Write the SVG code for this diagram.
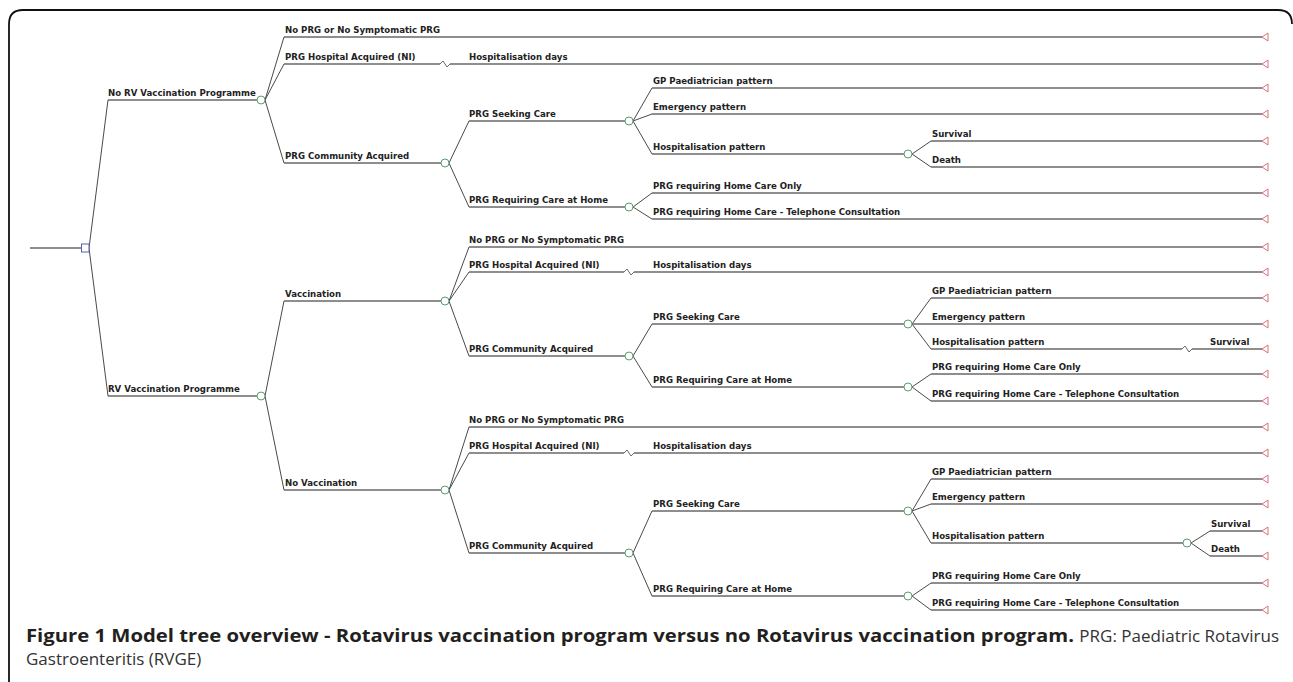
<svg xmlns="http://www.w3.org/2000/svg" width="1293" height="682" viewBox="0 0 1293 682">
<defs>
<style>
.ln{stroke:#6a6a6a;stroke-width:1.3;fill:none}
.dg{stroke:#4a4a4a;stroke-width:1;fill:none}
.ch{fill:#fff;stroke:#5a9e6f;stroke-width:1}
.dc{fill:#fff;stroke:#5561b0;stroke-width:1}
.tm{fill:none;stroke:#d9707a;stroke-width:1}
.nt{fill:none;stroke:#6a6a6a;stroke-width:1}
.lb{font-family:"DejaVu Sans",sans-serif;font-weight:bold;font-size:8.6px;fill:#222}
.cb{font-family:"Open Sans",sans-serif;font-weight:bold;font-size:17px;fill:#231f20}
.cr{font-family:"Open Sans",sans-serif;font-size:17px;fill:#333}
</style>
<path id="tri" d="M0 0 L6 -4 L6 4 Z" class="tm"/>
</defs>
<rect width="1293" height="682" fill="#fff"/>
<path d="M9 682 V24 Q9 10 23 10 H1278 Q1292 10 1292 24" fill="none" stroke="#111" stroke-width="1.8"/>
<g id="connectors">
<path class="ln" d="M30 248H81M108 100H257M108 396H257"/>
<path class="dg" d="M89 248L108 100M89 248L108 396"/>
<path class="dg" d="M265 100L284 37M265 100L284 64M265 100L284 163"/>
<path class="ln" d="M284 37H1262M284 64H440M450 64H1262M284 163H441"/>
<path class="dg" d="M449 163L469 121M449 163L469 207"/>
<path class="ln" d="M469 121H625M469 207H625"/>
<path class="dg" d="M633 121L652 88M633 121L652 114M633 121L652 154"/>
<path class="ln" d="M652 88H1262M652 114H1262M652 154H904"/>
<path class="dg" d="M912 154L931 141M912 154L931 167"/>
<path class="ln" d="M931 141H1262M931 167H1262"/>
<path class="dg" d="M633 207L652 193M633 207L652 219"/>
<path class="ln" d="M652 193H1262M652 219H1262"/>
<path class="dg" d="M265 396L284 301M265 396L284 490"/>
<path class="ln" d="M284 301H441M284 490H441"/>
<path class="dg" d="M449 301L469 247M449 301L469 272M449 301L469 356"/>
<path class="ln" d="M469 247H1262M469 272H624M634 272H1262M469 356H625"/>
<path class="dg" d="M633 356L652 324M633 356L652 387"/>
<path class="ln" d="M652 324H904M652 387H904"/>
<path class="dg" d="M912 324L931 298M912 324L931 349"/>
<path class="ln" d="M912 324H1262M931 298H1262M931 349H1182M1192 349H1262"/>
<path class="dg" d="M912 387L931 374M912 387L931 401"/>
<path class="ln" d="M931 374H1262M931 401H1262"/>
<path class="dg" d="M449 490L469 427M449 490L469 453M449 490L469 553"/>
<path class="ln" d="M469 427H1262M469 453H624M634 453H1262M469 553H625"/>
<path class="dg" d="M633 553L652 511M633 553L652 596"/>
<path class="ln" d="M652 511H904M652 596H904"/>
<path class="dg" d="M912 511L931 479M912 511L931 504M912 511L931 543"/>
<path class="ln" d="M931 479H1262M931 504H1262M931 543H1183"/>
<path class="dg" d="M1191 543L1210 531M1191 543L1210 556"/>
<path class="ln" d="M1210 531H1262M1210 556H1262"/>
<path class="dg" d="M912 596L931 583M912 596L931 610"/>
<path class="ln" d="M931 583H1262M931 610H1262"/>
</g>
<g id="root"><rect class="dc" x="81.5" y="244" width="7.5" height="8"/></g>
<g id="n-norv"><circle class="ch" cx="261" cy="100" r="4"/><text class="lb" x="108" y="96">No RV Vaccination Programme</text></g>
<g id="n-rv"><circle class="ch" cx="261" cy="396" r="4"/><text class="lb" x="108" y="392">RV Vaccination Programme</text></g>
<g id="a1"><use href="#tri" x="1262" y="37"/><text class="lb" x="285" y="33">No PRG or No Symptomatic PRG</text></g>
<g id="a2"><path class="nt" d="M440 64L443 61L447 67L450 64"/><text class="lb" x="285" y="60">PRG Hospital Acquired (NI)</text></g>
<g id="a2t"><use href="#tri" x="1262" y="64"/><text class="lb" x="469" y="60">Hospitalisation days</text></g>
<g id="a3"><circle class="ch" cx="445" cy="163" r="4"/><text class="lb" x="285" y="159">PRG Community Acquired</text></g>
<g id="a31"><circle class="ch" cx="629" cy="121" r="4"/><text class="lb" x="469" y="117">PRG Seeking Care</text></g>
<g id="a311"><use href="#tri" x="1262" y="88"/><text class="lb" x="653" y="84">GP Paediatrician pattern</text></g>
<g id="a312"><use href="#tri" x="1262" y="114"/><text class="lb" x="653" y="110">Emergency pattern</text></g>
<g id="a313"><circle class="ch" cx="908" cy="154" r="4"/><text class="lb" x="653" y="150">Hospitalisation pattern</text></g>
<g id="a3131"><use href="#tri" x="1262" y="141"/><text class="lb" x="932" y="137">Survival</text></g>
<g id="a3132"><use href="#tri" x="1262" y="167"/><text class="lb" x="932" y="163">Death</text></g>
<g id="a32"><circle class="ch" cx="629" cy="207" r="4"/><text class="lb" x="469" y="203">PRG Requiring Care at Home</text></g>
<g id="a321"><use href="#tri" x="1262" y="193"/><text class="lb" x="653" y="189">PRG requiring Home Care Only</text></g>
<g id="a322"><use href="#tri" x="1262" y="219"/><text class="lb" x="653" y="215">PRG requiring Home Care - Telephone Consultation</text></g>
<g id="b1"><circle class="ch" cx="445" cy="301" r="4"/><text class="lb" x="285" y="297">Vaccination</text></g>
<g id="b11"><use href="#tri" x="1262" y="247"/><text class="lb" x="469" y="243">No PRG or No Symptomatic PRG</text></g>
<g id="b12"><path class="nt" d="M624 272L627 269L631 275L634 272"/><text class="lb" x="469" y="268">PRG Hospital Acquired (NI)</text></g>
<g id="b12t"><use href="#tri" x="1262" y="272"/><text class="lb" x="653" y="268">Hospitalisation days</text></g>
<g id="b13"><circle class="ch" cx="629" cy="356" r="4"/><text class="lb" x="469" y="352">PRG Community Acquired</text></g>
<g id="b131"><circle class="ch" cx="908" cy="324" r="4"/><text class="lb" x="653" y="320">PRG Seeking Care</text></g>
<g id="b1311"><use href="#tri" x="1262" y="298"/><text class="lb" x="932" y="294">GP Paediatrician pattern</text></g>
<g id="b1312"><use href="#tri" x="1262" y="324"/><text class="lb" x="932" y="320">Emergency pattern</text></g>
<g id="b1313"><path class="nt" d="M1182 349L1185 346L1189 352L1192 349"/><text class="lb" x="932" y="345">Hospitalisation pattern</text></g>
<g id="b1313t"><use href="#tri" x="1262" y="349"/><text class="lb" x="1210" y="345">Survival</text></g>
<g id="b132"><circle class="ch" cx="908" cy="387" r="4"/><text class="lb" x="653" y="383">PRG Requiring Care at Home</text></g>
<g id="b1321"><use href="#tri" x="1262" y="374"/><text class="lb" x="932" y="370">PRG requiring Home Care Only</text></g>
<g id="b1322"><use href="#tri" x="1262" y="401"/><text class="lb" x="932" y="397">PRG requiring Home Care - Telephone Consultation</text></g>
<g id="b2"><circle class="ch" cx="445" cy="490" r="4"/><text class="lb" x="285" y="486">No Vaccination</text></g>
<g id="b21"><use href="#tri" x="1262" y="427"/><text class="lb" x="469" y="423">No PRG or No Symptomatic PRG</text></g>
<g id="b22"><path class="nt" d="M624 453L627 450L631 456L634 453"/><text class="lb" x="469" y="449">PRG Hospital Acquired (NI)</text></g>
<g id="b22t"><use href="#tri" x="1262" y="453"/><text class="lb" x="653" y="449">Hospitalisation days</text></g>
<g id="b23"><circle class="ch" cx="629" cy="553" r="4"/><text class="lb" x="469" y="549">PRG Community Acquired</text></g>
<g id="b231"><circle class="ch" cx="908" cy="511" r="4"/><text class="lb" x="653" y="507">PRG Seeking Care</text></g>
<g id="b2311"><use href="#tri" x="1262" y="479"/><text class="lb" x="932" y="475">GP Paediatrician pattern</text></g>
<g id="b2312"><use href="#tri" x="1262" y="504"/><text class="lb" x="932" y="500">Emergency pattern</text></g>
<g id="b2313"><circle class="ch" cx="1187" cy="543" r="4"/><text class="lb" x="932" y="539">Hospitalisation pattern</text></g>
<g id="b23131"><use href="#tri" x="1262" y="531"/><text class="lb" x="1211" y="527">Survival</text></g>
<g id="b23132"><use href="#tri" x="1262" y="556"/><text class="lb" x="1211" y="552">Death</text></g>
<g id="b232"><circle class="ch" cx="908" cy="596" r="4"/><text class="lb" x="653" y="592">PRG Requiring Care at Home</text></g>
<g id="b2321"><use href="#tri" x="1262" y="583"/><text class="lb" x="932" y="579">PRG requiring Home Care Only</text></g>
<g id="b2322"><use href="#tri" x="1262" y="610"/><text class="lb" x="932" y="606">PRG requiring Home Care - Telephone Consultation</text></g>
<g id="caption">
<text class="cb" x="26" y="642" textLength="1048" lengthAdjust="spacingAndGlyphs">Figure 1 Model tree overview - Rotavirus vaccination program versus no Rotavirus vaccination program.</text>
<text class="cr" x="1279" y="642" text-anchor="end">PRG: Paediatric Rotavirus</text>
<text class="cr" x="26" y="665">Gastroenteritis (RVGE)</text>
</g>
</svg>
